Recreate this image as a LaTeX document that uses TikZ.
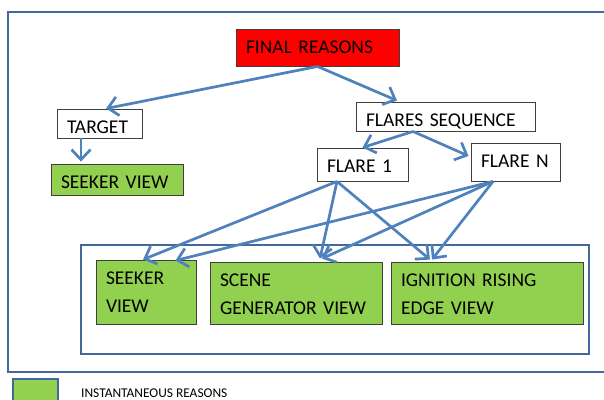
\documentclass[tikz,border=0pt]{standalone}
\usepackage{fontspec}
\setmainfont{Carlito}
\usetikzlibrary{arrows.meta}

\definecolor{linkblue}{HTML}{4F81BD}
\definecolor{frameblue}{HTML}{45689B}
\definecolor{leafgreen}{HTML}{92D050}
\definecolor{boxedge}{HTML}{3F3F3F}
\definecolor{rootred}{HTML}{FF0000}

\begin{document}
\begin{tikzpicture}[x=1pt,y=-1pt,
  % rectangle with left-set caps, first baseline 24.5 below its top edge
  box/.style n args={2}{draw=boxedge, line width=0.9pt, inner xsep=10pt, inner ysep=0pt,
    text width=#1-20pt, align=left, text height=24.5pt, text depth=#2-24.5pt,
    font=\fontsize{19.5}{28}\selectfont},
  leaf/.style={fill=leafgreen},
  root/.style={fill=rootred},
  frame/.style={draw=frameblue, line width=2.2pt, inner sep=0pt},
  link/.style={draw=linkblue, line width=2.7pt,
    -{Straight Barb[length=10pt,width=19pt]}},
]
\useasboundingbox (0,0) rectangle (604,399);

% enclosing frames
\node[frame, minimum width=606pt, minimum height=360pt] (outer) at (311,192) {};
\node[frame, minimum width=508pt, minimum height=109pt] (group) at (335,299.5) {};

% hierarchy
\node[box={163pt}{37pt}, root] (final)  at (317.5,47.5) {FINAL REASONS};
\node[box={85pt}{29pt}]        (target) at (99.5,123.5) {TARGET};
\node[box={132pt}{31pt}, leaf] (seekerA) at (117,179.5) {SEEKER VIEW};
\node[box={179pt}{29pt}]       (fseq)   at (445.5,116.5) {FLARES SEQUENCE};
\node[box={91pt}{33pt}]        (flare1) at (362.5,164.5) {FLARE 1};
\node[box={89pt}{38pt}]        (flareN) at (515.5,162) {FLARE N};

% instantaneous views
\node[box={100pt}{64pt}, leaf] (seekerB)  at (146,292) {SEEKER\\VIEW};
\node[box={172pt}{62pt}, leaf] (scene)    at (296,293) {SCENE\\GENERATOR VIEW};
\node[box={192pt}{62pt}, leaf] (ignition) at (487,293) {IGNITION RISING\\EDGE VIEW};

% legend
\node[draw=frameblue, line width=2pt, fill=leafgreen, minimum width=45pt,
      minimum height=34pt, inner sep=0pt] (swatch) at (35.5,396) {};
\node[anchor=base west, inner sep=0pt, font=\fontsize{13.4}{16}\selectfont]
      (legend) at (81,397) {INSTANTANEOUS REASONS};

% connectors
\draw[link] (final.south) -- ([xshift=6.5pt]target.north);
\draw[link] (final.south) -- ([xshift=-48.5pt,yshift=1pt]fseq.north);
\draw[link] ([xshift=-32.5pt]fseq.south) -- (flare1.north);
\draw[link] ([xshift=-32.5pt]fseq.south) -- ([xshift=-2pt,yshift=6pt]flareN.west);
\draw[link] ([xshift=-18.5pt]target.south) -- ([xshift=-36pt,yshift=2pt]seekerA.north);

\draw[link] ([xshift=-25.5pt]flare1.south) -- ([xshift=-3pt]seekerB.north);
\draw[link] ([xshift=-25.5pt]flare1.south) -- ([xshift=24pt,yshift=3pt]scene.north);
\draw[link] ([xshift=-25.5pt]flare1.south) -- ([xshift=-57pt,yshift=2pt]ignition.north);

\draw[link] ([xshift=-22.5pt]flareN.south) -- ([xshift=-21pt,yshift=-1pt]seekerB.north east);
\draw[link] ([xshift=-22.5pt]flareN.south) -- ([xshift=26pt,yshift=3pt]scene.north);
\draw[link] ([xshift=-22.5pt]flareN.south) -- ([xshift=-55pt,yshift=2pt]ignition.north);
\end{tikzpicture}
\end{document}
